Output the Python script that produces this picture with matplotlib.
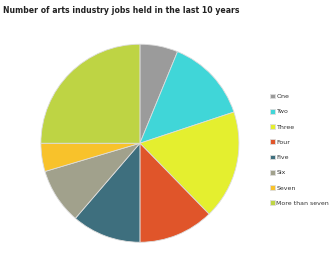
import matplotlib.pyplot as plt

# slice data (percent, read clockwise from 12 o'clock)
labels = ["One", "Two", "Three", "Four", "Five", "Six", "Seven", "More than seven"]
values = [6.2, 13.7, 17.8, 12.3, 11.3, 9.1, 4.6, 25.0]
colors = ["#9b9b9b", "#40d6d8", "#e4ef2f", "#e0552a", "#3e6f7e", "#a1a18c", "#f8c22b", "#bed444"]

fig = plt.figure(figsize=(3.3, 2.56), dpi=100)
fig.patch.set_facecolor("white")

ax = fig.add_axes([0.118, 0.046, 0.612, 0.789])
wedges, _ = ax.pie(values, colors=colors, startangle=90, counterclock=False,
                   radius=1, wedgeprops=dict(edgecolor="#dddddd", linewidth=0.6))
ax.set_xlim(-1.02, 1.02)
ax.set_ylim(-1.02, 1.02)
ax.set_aspect("equal")

fig.text(0.01, 0.96, "Number of arts industry jobs held in the last 10 years",
         fontsize=5.6, fontweight="bold", color="#222222", va="center")

fig.legend(wedges, labels, loc="center left", bbox_to_anchor=(0.8, 0.415),
           frameon=False, fontsize=4.5, handlelength=0.8, handleheight=0.8,
           handletextpad=0.3, labelspacing=1.55, labelcolor="#333333")

fig.savefig("out.png", dpi=100)
